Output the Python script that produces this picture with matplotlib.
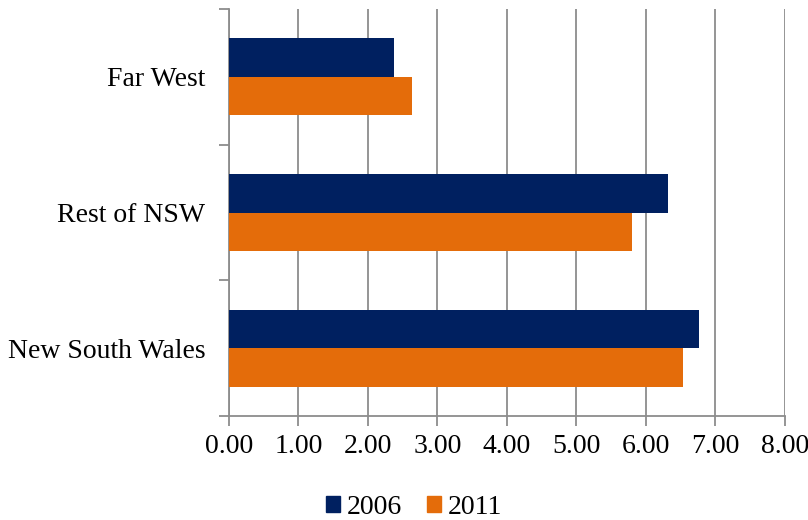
import numpy as np
import matplotlib.pyplot as plt
from matplotlib.patches import Patch

# 数据
regions = ['Far West', 'Rest of NSW', 'New South Wales']
vals_2006 = [2.38, 6.31, 6.76]
vals_2011 = [2.63, 5.80, 6.53]
xticks = [0, 1, 2, 3, 4, 5, 6, 7, 8]

navy = '#002060'
orange = '#E46C0A'
grid_c = '#8C8C8C'

plt.rcParams['font.family'] = ['Liberation Serif', 'DejaVu Serif']

fig = plt.figure(figsize=(8.08, 5.20), dpi=100)
ax = fig.add_axes([229 / 808, 1 - 416 / 520, (785 - 229) / 808, (416 - 9) / 520])

# 从上到下排列
y = np.arange(len(regions))[::-1]
h = 0.285
ax.barh(y + h / 2, vals_2006, height=h, color=navy, zorder=3)
ax.barh(y - h / 2, vals_2011, height=h, color=orange, zorder=3)

ax.set_xlim(0, 8)
ax.set_ylim(-0.5, 2.5)
ax.set_xticks(xticks)
ax.set_xticklabels(['%.2f' % v for v in xticks], fontsize=20)
ax.set_yticks(y)
ax.set_yticklabels(regions, fontsize=20)
ax.set_yticks(np.arange(-0.5, 3.0, 1.0), minor=True)

ax.tick_params(axis='y', which='major', length=0, pad=17)
ax.tick_params(axis='y', which='minor', length=7, width=1.3, color=grid_c, direction='out')
ax.tick_params(axis='x', length=7, width=1.3, color=grid_c, pad=6)

ax.grid(axis='x', color=grid_c, linewidth=1.3, zorder=0)
for s in ['top', 'right']:
    ax.spines[s].set_visible(False)
for s in ['left', 'bottom']:
    ax.spines[s].set_color(grid_c)
    ax.spines[s].set_linewidth(1.3)

handles = [Patch(color=navy, label='2006'), Patch(color=orange, label='2011')]
fig.legend(handles=handles, loc='center', bbox_to_anchor=(414 / 808, 1 - 507 / 520),
           ncol=2, frameon=False, fontsize=20, handlelength=0.5, handleheight=0.5,
           handletextpad=0.25, columnspacing=0.9)

fig.savefig('out.png', dpi=100)
